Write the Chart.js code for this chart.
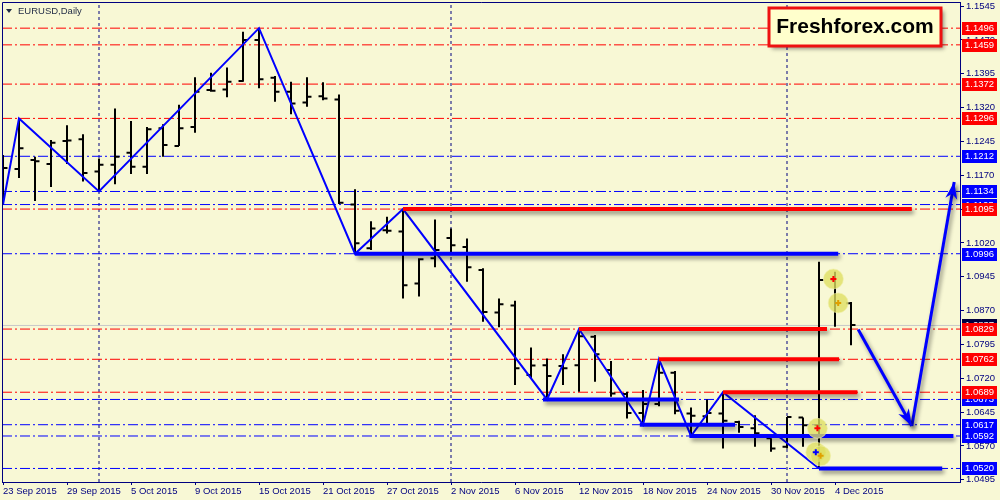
<!DOCTYPE html>
<html>
<head>
<meta charset="utf-8">
<title>EURUSD, Daily</title>
<script src="https://cdn.jsdelivr.net/npm/chart.js@4.4.0/dist/chart.umd.min.js"></script>
<style>
  html, body { margin: 0; padding: 0; background: #F8F8D5; }
  #wrap { width: 1000px; height: 500px; }
</style>
</head>
<body>
<div id="wrap"><canvas id="chart" width="1000" height="500"></canvas></div>
<script>
// --- data: daily EURUSD bars, 23 Sep 2015 .. 7 Dec 2015 (x = bar number)
const opens  = [1.1184, 1.1184, 1.1204, 1.1195, 1.1246, 1.1250, 1.1178, 1.1193, 1.1220, 1.1189,
                1.1274, 1.1235, 1.1277, 1.1359, 1.1360, 1.1379, 1.1470, 1.1386, 1.1355, 1.1331,
                1.1345, 1.1338, 1.1105, 1.1008, 1.1048, 1.1045, 1.0930, 1.0986, 1.1031, 1.1011,
                1.0960, 1.0866, 1.0881, 1.0727, 1.0749, 1.0747, 1.0749, 1.0812, 1.0738, 1.0685,
                1.0643, 1.0663, 1.0732, 1.0642, 1.0636, 1.0642, 1.0623, 1.0609, 1.0587, 1.0568,
                1.0633, 1.0616, 1.0939, 1.0886];
const highs  = [1.1215, 1.1296, 1.1211, 1.1248, 1.1281, 1.1261, 1.1207, 1.1318, 1.1290, 1.1277,
                1.1283, 1.1326, 1.1387, 1.1397, 1.1409, 1.1488, 1.1496, 1.1390, 1.1377, 1.1387,
                1.1376, 1.1349, 1.1139, 1.1068, 1.1078, 1.1095, 1.0986, 1.1072, 1.1052, 1.1030,
                1.0964, 1.0897, 1.0892, 1.0788, 1.0764, 1.0773, 1.0829, 1.0816, 1.0758, 1.0690,
                1.0694, 1.0762, 1.0736, 1.0655, 1.0673, 1.0689, 1.0626, 1.0638, 1.0587, 1.0634,
                1.0633, 1.0978, 1.0956, 1.0889];
const lows   = [1.1105, 1.1164, 1.1113, 1.1144, 1.1195, 1.1156, 1.1134, 1.1150, 1.1173, 1.1173,
                1.1211, 1.1235, 1.1264, 1.1355, 1.1343, 1.1377, 1.1363, 1.1333, 1.1305, 1.1322,
                1.1336, 1.1106, 1.0996, 1.1004, 1.1041, 1.0897, 1.0901, 1.0966, 1.0997, 1.0934,
                1.0845, 1.0833, 1.0705, 1.0720, 1.0673, 1.0705, 1.0690, 1.0712, 1.0679, 1.0631,
                1.0617, 1.0658, 1.0640, 1.0592, 1.0620, 1.0564, 1.0599, 1.0568, 1.0557, 1.0564,
                1.0568, 1.0520, 1.0834, 1.0793];
const closes = [1.1186, 1.1230, 1.1201, 1.1242, 1.1247, 1.1175, 1.1193, 1.1211, 1.1189, 1.1272,
                1.1237, 1.1274, 1.1355, 1.1357, 1.1377, 1.1470, 1.1383, 1.1355, 1.1329, 1.1344,
                1.1340, 1.1109, 1.1019, 1.1052, 1.1047, 1.0926, 1.0984, 1.1004, 1.1015, 1.0966,
                1.0867, 1.0884, 1.0742, 1.0748, 1.0725, 1.0742, 1.0813, 1.0773, 1.0686, 1.0643,
                1.0663, 1.0732, 1.0648, 1.0637, 1.0643, 1.0626, 1.0612, 1.0598, 1.0564, 1.0634,
                1.0616, 1.0938, 1.0886, 1.0838];

const xTickBars   = [0, 4, 8, 12, 16, 20, 24, 28, 32, 36, 40, 44, 48, 52];
const xTickLabels = ['23 Sep 2015', '29 Sep 2015', '5 Oct 2015', '9 Oct 2015', '15 Oct 2015',
                     '21 Oct 2015', '27 Oct 2015', '2 Nov 2015', '6 Nov 2015', '12 Nov 2015',
                     '18 Nov 2015', '24 Nov 2015', '30 Nov 2015', '4 Dec 2015'];
const yTicks = [1.0495, 1.0570, 1.0645, 1.0720, 1.0795, 1.0870, 1.0945, 1.1020,
                1.1095, 1.1170, 1.1245, 1.1320, 1.1395, 1.1470, 1.1545];
const monthStarts = [6, 28, 49];

// zigzag swing points
const zigzagBars   = [0, 1, 6, 16, 22, 25, 34, 36, 40, 41, 43, 45, 51];
const zigzagPrices = [1.1105, 1.1296, 1.1134, 1.1496, 1.0996, 1.1095, 1.0673, 1.0829,
                      1.0617, 1.0762, 1.0592, 1.0689, 1.0520];

// support / resistance levels
const resistLevels = [1.1496, 1.1459, 1.1372, 1.1296, 1.1095, 1.0829, 1.0762, 1.0689];
const supportLevels = [1.1212, 1.1134, 1.1105, 1.0996, 1.0673, 1.0617, 1.0592, 1.0520];
const bidPrice = 1.0837;

// thick drawn lines: start bar, end bar, price
const resistSegStart = [25, 36, 41, 45];
const resistSegEnd   = [56.8, 51.5, 52.25, 53.4];
const resistSegPrice = [1.1095, 1.0829, 1.0762, 1.0689];
const supportSegStart = [22, 33.75, 39.8, 42.9, 51];
const supportSegEnd   = [52.2, 42.25, 45.75, 59.4, 58.7];
const supportSegPrice = [1.0996, 1.0673, 1.0617, 1.0592, 1.0520];

// projected path (two arrows)
const pathBars   = [53.45, 56.8, 59.45];
const pathPrices = [1.0828, 1.0614, 1.1155];

// trade markers
const markerBars   = [51.9, 52.2, 50.9, 50.8, 51.1];
const markerPrices = [1.0940, 1.0887, 1.0609, 1.0556, 1.0548];

const X_MIN = -0.0625, X_MAX = 59.8125;
const Y_MIN = 1.0490, Y_MAX = 1.1554;

const NAVY = '#000080';
const RED = '#FF0000';
const BLUE = '#0000FF';

// --- build datasets
function ohlcData() {
    const pts = [];
    opens.forEach((o, i) => {
        pts.push({ x: i, y: lows[i] }, { x: i, y: highs[i] }, { x: i, y: null });
        pts.push({ x: i - 0.28, y: o }, { x: i, y: o }, { x: i, y: null });
        pts.push({ x: i, y: closes[i] }, { x: i + 0.28, y: closes[i] }, { x: i, y: null });
    });
    return pts;
}

function hLine(price, color, order, extra) {
    return Object.assign({
        type: 'line',
        data: [{ x: X_MIN, y: price }, { x: X_MAX, y: price }],
        borderColor: color, borderWidth: 1, borderDash: [10, 3, 2, 3],
        pointRadius: 0, order: order
    }, extra || {});
}

const datasets = [];

monthStarts.forEach(b => datasets.push({
    type: 'line', data: [{ x: b, y: Y_MIN }, { x: b, y: Y_MAX }],
    borderColor: NAVY, borderWidth: 1, borderDash: [3, 3], pointRadius: 0, order: 9
}));
resistLevels.forEach(v => datasets.push(hLine(v, RED, 8)));
supportLevels.forEach(v => datasets.push(hLine(v, BLUE, 8)));
datasets.push(hLine(bidPrice, '#C8C8C8', 7, { borderDash: [] }));

datasets.push({
    type: 'line', data: ohlcData(), borderColor: '#000000', borderWidth: 2,
    borderCapStyle: 'butt', pointRadius: 0, spanGaps: false, order: 5
});

datasets.push({
    type: 'line',
    data: zigzagBars.map((b, i) => ({ x: b, y: zigzagPrices[i] })),
    borderColor: BLUE, borderWidth: 2, pointRadius: 0, order: 4
});

resistSegPrice.forEach((v, i) => datasets.push({
    type: 'line', data: [{ x: resistSegStart[i], y: v }, { x: resistSegEnd[i], y: v }],
    borderColor: RED, borderWidth: 4, borderCapStyle: 'butt', pointRadius: 0, order: 3, shadow: true
}));
supportSegPrice.forEach((v, i) => datasets.push({
    type: 'line', data: [{ x: supportSegStart[i], y: v }, { x: supportSegEnd[i], y: v }],
    borderColor: BLUE, borderWidth: 4, borderCapStyle: 'butt', pointRadius: 0, order: 3, shadow: true
}));

for (let i = 0; i < pathBars.length - 1; i++) {
    datasets.push({
        type: 'line',
        data: [{ x: pathBars[i], y: pathPrices[i] }, { x: pathBars[i + 1], y: pathPrices[i + 1] }],
        borderColor: BLUE, borderWidth: 3, pointRadius: 0, order: 2, shadow: true, arrow: true
    });
}

datasets.push({
    type: 'scatter',
    data: markerBars.map((b, i) => ({ x: b, y: markerPrices[i] })),
    pointRadius: 10, pointBackgroundColor: 'rgba(222,222,96,0.78)',
    pointBorderColor: 'rgba(240,240,170,0.6)', pointBorderWidth: 1, order: 1
});
datasets.push({
    type: 'scatter',
    data: markerBars.map((b, i) => ({ x: b, y: markerPrices[i] })),
    pointStyle: 'cross', pointRadius: 3, pointBorderWidth: 2,
    pointBorderColor: ['#FF0000', '#E0A000', '#FF0000', '#0000FF', '#E0A000'], order: 0
});

// --- plugins
const shadowPlugin = {
    id: 'shadow',
    beforeDatasetDraw(chart, args) {
        if (!chart.data.datasets[args.index].shadow) return;
        const ctx = chart.ctx;
        ctx.save();
        ctx.shadowColor = 'rgba(0,0,0,0.45)';
        ctx.shadowBlur = 4;
        ctx.shadowOffsetX = 2;
        ctx.shadowOffsetY = 3;
    },
    afterDatasetDraw(chart, args) {
        if (chart.data.datasets[args.index].shadow) chart.ctx.restore();
    }
};

const arrowHeads = {
    id: 'arrowHeads',
    afterDatasetsDraw(chart) {
        const ctx = chart.ctx;
        chart.data.datasets.forEach((ds, i) => {
            if (!ds.arrow) return;
            const pts = chart.getDatasetMeta(i).data;
            const a = pts[pts.length - 2], b = pts[pts.length - 1];
            const ang = Math.atan2(b.y - a.y, b.x - a.x);
            ctx.save();
            ctx.shadowColor = 'rgba(0,0,0,0.4)';
            ctx.shadowBlur = 4;
            ctx.shadowOffsetX = 2;
            ctx.shadowOffsetY = 3;
            ctx.translate(b.x, b.y);
            ctx.rotate(ang);
            ctx.beginPath();
            ctx.moveTo(0, 0);
            ctx.lineTo(-17, -6);
            ctx.lineTo(-12, 0);
            ctx.lineTo(-17, 6);
            ctx.closePath();
            ctx.fillStyle = ds.borderColor;
            ctx.fill();
            ctx.restore();
        });
    }
};

const decorations = {
    id: 'decorations',
    afterDraw(chart) {
        const ctx = chart.ctx;
        const area = chart.chartArea;
        const ys = chart.scales.y;

        // frame (top / left)
        ctx.save();
        ctx.strokeStyle = NAVY;
        ctx.lineWidth = 1;
        ctx.beginPath();
        ctx.moveTo(area.left + 0.5, area.bottom);
        ctx.lineTo(area.left + 0.5, area.top + 0.5);
        ctx.lineTo(area.right, area.top + 0.5);
        ctx.stroke();

        // price labels on the right axis
        const box = (v, color) => {
            const y = Math.round(ys.getPixelForValue(v));
            ctx.fillStyle = color;
            ctx.fillRect(area.right + 2, y - 6, 35, 13);
            ctx.fillStyle = '#FFFFFF';
            ctx.font = "9.5px 'Liberation Sans', Arial, sans-serif";
            ctx.textAlign = 'center';
            ctx.textBaseline = 'middle';
            ctx.fillText(v.toFixed(4), area.right + 19.5, y + 0.5);
        };
        box(bidPrice, '#000040');
        supportLevels.forEach(v => box(v, BLUE));
        resistLevels.forEach(v => box(v, RED));

        // symbol caption
        ctx.fillStyle = '#1F2A44';
        ctx.beginPath();
        ctx.moveTo(6, 9); ctx.lineTo(12, 9); ctx.lineTo(9, 13); ctx.closePath();
        ctx.fill();
        ctx.font = "9.5px 'Liberation Sans', Arial, sans-serif";
        ctx.textAlign = 'left';
        ctx.textBaseline = 'middle';
        ctx.fillText('EURUSD,Daily', 18, 11);

        // brand box
        ctx.shadowColor = 'rgba(0,0,0,0.4)';
        ctx.shadowBlur = 4;
        ctx.shadowOffsetX = 3;
        ctx.shadowOffsetY = 3;
        ctx.fillStyle = '#FFFFCC';
        ctx.fillRect(769, 8, 172, 38);
        ctx.shadowColor = 'transparent';
        ctx.strokeStyle = '#EE1111';
        ctx.lineWidth = 3;
        ctx.strokeRect(769, 8, 172, 38);
        ctx.fillStyle = '#000000';
        ctx.font = "bold 21px 'Liberation Sans', Arial, sans-serif";
        ctx.textAlign = 'center';
        ctx.fillText('Freshforex.com', 855, 27);
        ctx.restore();
    }
};

Chart.defaults.font.family = "'Liberation Sans', Arial, sans-serif";

new Chart(document.getElementById('chart'), {
    data: { datasets: datasets },
    options: {
        responsive: false,
        animation: false,
        events: [],
        layout: { autoPadding: false, padding: { left: 2, top: 2, right: 0, bottom: 0 } },
        elements: { line: { tension: 0 }, point: { radius: 0 } },
        plugins: { legend: { display: false }, tooltip: { enabled: false } },
        scales: {
            x: {
                type: 'linear', position: 'bottom', min: X_MIN, max: X_MAX, offset: false,
                afterBuildTicks: s => { s.ticks = xTickBars.map(v => ({ value: v })); },
                afterFit: s => { s.height = 18; s.paddingLeft = 0; s.paddingRight = 0; },
                ticks: {
                    autoSkip: false, maxRotation: 0, minRotation: 0, align: 'start',
                    color: NAVY, font: { size: 9.5 }, padding: 1,
                    callback: (v, i) => xTickLabels[i]
                },
                grid: { drawOnChartArea: false, drawTicks: true, tickLength: 3, color: NAVY },
                border: { display: true, color: NAVY, width: 1 }
            },
            y: {
                type: 'linear', position: 'right', min: Y_MIN, max: Y_MAX,
                afterBuildTicks: s => { s.ticks = yTicks.map(v => ({ value: v })); },
                afterFit: s => { s.width = 40; s.paddingTop = 0; s.paddingBottom = 0; },
                ticks: {
                    color: NAVY, font: { size: 9.5 }, padding: 2,
                    callback: v => v.toFixed(4)
                },
                grid: { drawOnChartArea: false, drawTicks: true, tickLength: 4, color: NAVY },
                border: { display: true, color: NAVY, width: 1 }
            }
        }
    },
    plugins: [shadowPlugin, arrowHeads, decorations]
});
</script>
</body>
</html>
